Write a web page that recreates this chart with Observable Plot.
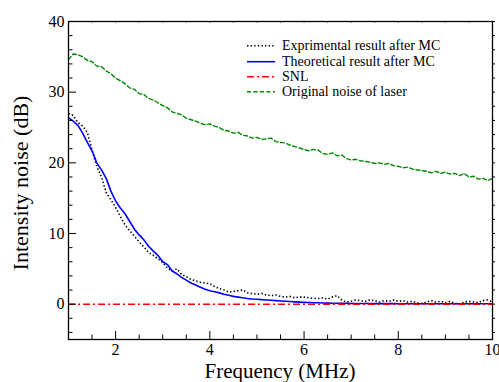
<!DOCTYPE html>
<html><head><meta charset="utf-8">
<script src="https://cdn.jsdelivr.net/npm/d3@7"></script>
<script src="https://cdn.jsdelivr.net/npm/@observablehq/plot@0.6"></script>
<style>
html,body{margin:0;padding:0;background:#fff;}
#chart{width:499px;height:382px;}
</style></head><body><div id="chart"></div>
<script>
// Frequency grid (MHz)
const freq = [
  1.0,1.1,1.2,1.3,1.4,1.5,1.6,1.7,1.8,1.9,
  2.0,2.1,2.2,2.3,2.4,2.5,2.6,2.7,2.8,2.9,
  3.0,3.1,3.2,3.3,3.4,3.5,3.6,3.7,3.8,3.9,
  4.0,4.1,4.2,4.3,4.4,4.5,4.6,4.7,4.8,4.9,
  5.0,5.1,5.2,5.3,5.4,5.5,5.6,5.7,5.8,5.9,
  6.0,6.1,6.2,6.3,6.4,6.5,6.6,6.7,6.8,6.9,
  7.0,7.1,7.2,7.3,7.4,7.5,7.6,7.7,7.8,7.9,
  8.0,8.1,8.2,8.3,8.4,8.5,8.6,8.7,8.8,8.9,
  9.0,9.1,9.2,9.3,9.4,9.5,9.6,9.7,9.8,9.9,
  10.0];
// Experimental result after MC (dB)
const experimental = [
  27.0,26.7,25.7,25.2,24.3,21.8,19.5,18.0,15.8,14.8,
  13.7,12.4,11.2,10.4,9.6,8.8,8.1,7.3,6.9,6.4,
  5.9,5.1,4.7,5.0,4.2,3.9,3.5,3.3,3.1,3.0,
  2.9,2.5,2.2,2.0,1.7,1.8,1.9,2.0,1.6,1.5,
  1.4,1.5,1.3,1.2,1.3,1.1,1.0,1.1,0.9,1.0,
  1.0,0.9,0.8,0.8,0.9,0.7,1.0,1.2,0.6,0.3,
  0.4,0.6,0.5,0.4,0.6,0.5,0.3,0.5,0.4,0.6,
  0.4,0.5,0.3,0.4,0.2,0.1,0.3,0.5,0.3,0.4,
  0.2,0.4,0.1,0.0,0.3,0.4,0.3,0.2,0.5,0.6,
  0.3];
// Theoretical result after MC (dB)
const theoretical = [
  26.4,25.9,25.3,24.2,22.9,21.7,20.0,19.0,17.8,16.0,
  14.6,13.6,12.8,11.7,10.6,9.8,9.1,8.2,7.5,6.9,
  6.0,5.6,4.7,4.3,3.8,3.4,3.0,2.7,2.4,2.1,
  1.9,1.75,1.6,1.4,1.25,1.1,1.0,0.9,0.8,0.74,
  0.7,0.64,0.6,0.55,0.5,0.45,0.41,0.37,0.33,0.29,
  0.26,0.23,0.21,0.19,0.17,0.15,0.14,0.13,0.12,0.11,
  0.10,0.10,0.09,0.09,0.08,0.08,0.08,0.07,0.07,0.07,
  0.06,0.06,0.06,0.06,0.06,0.06,0.06,0.06,0.06,0.06,
  0.05,0.05,0.05,0.05,0.05,0.05,0.05,0.05,0.05,0.05,
  0.05];
// SNL (dB)
const snlLevel = [0];
// Original noise of laser (dB)
const laserNoise = [
  34.6,35.4,35.3,35.0,34.5,34.3,33.7,33.6,33.0,32.6,
  32.0,31.6,31.2,30.6,30.4,29.8,29.7,29.1,28.9,28.5,
  28.1,27.8,27.2,27.0,26.8,26.3,26.1,25.9,25.6,25.4,
  25.5,25.2,25.0,24.6,24.5,24.2,24.3,23.9,23.8,23.5,
  23.6,23.3,23.4,23.5,23.0,22.9,22.8,22.5,22.3,22.1,
  21.9,21.7,21.9,21.8,21.3,21.2,21.4,21.0,21.1,20.6,
  20.4,20.5,20.3,20.2,20.1,19.9,20.0,19.8,19.9,19.6,
  19.5,19.3,19.4,19.1,19.0,18.9,18.8,18.6,18.8,18.5,
  18.7,18.4,18.5,18.2,18.5,18.0,18.1,17.7,17.8,17.5,
  17.8];

const xMajorTicks = [2,4,6,8,10];
const xMinorTicks = [1.5,2.5,3,3.5,4.5,5,5.5,6.5,7,7.5,8.5,9,9.5];
const yMajorTicks = [0,10,20,30,40];
const yMinorTicks = [-4,-2,2,4,6,8,12,14,16,18,22,24,26,28,32,34,36,38];
const xTitle = "Frequency (MHz)";
const yTitle = "Intensity noise (dB)";
const seriesNames = ["Exprimental result after MC","Theoretical result after MC","SNL","Original noise of laser"];
const seriesColors = ["#000000","#0000ff","#ff0000","#008800"];
const seriesDash = ["1.4,2.2","none","7,3,2,3","4,2.5"];

const W = 499, H = 382, mL = 68, mR = 7, mT = 21, mB = 43;
const innerW = W - mL - mR, innerH = H - mT - mB;
const font = "Liberation Serif";

const tbl = arr => freq.map((f, i) => ({f, v: arr[i]}));

const plot = Plot.plot({
  width: W, height: H,
  marginLeft: mL, marginRight: mR, marginTop: mT, marginBottom: mB,
  x: {domain: [1, 10], label: null},
  y: {domain: [-5, 40], label: null},
  style: {fontFamily: font, fontSize: "16px"},
  marks: [
    Plot.line(tbl(experimental), {x: "f", y: "v", stroke: seriesColors[0], strokeWidth: 1.6, strokeDasharray: seriesDash[0], strokeLinecap: "butt"}),
    Plot.line(tbl(theoretical), {x: "f", y: "v", stroke: seriesColors[1], strokeWidth: 1.6}),
    Plot.ruleY(snlLevel, {stroke: seriesColors[2], strokeWidth: 1.5, strokeDasharray: seriesDash[2]}),
    Plot.line(tbl(laserNoise), {x: "f", y: "v", stroke: seriesColors[3], strokeWidth: 1.4, strokeDasharray: seriesDash[3]}),
    // bottom ticks (inward)
    Plot.tickX(xMajorTicks, {x: d => d, insetTop: innerH - 8, stroke: "#000", strokeWidth: 1}),
    Plot.tickX(xMinorTicks, {x: d => d, insetTop: innerH - 4.5, stroke: "#000", strokeWidth: 1}),
    // top ticks (small)
    Plot.tickX(xMajorTicks.concat(xMinorTicks), {x: d => d, insetBottom: innerH - 2, stroke: "#666", strokeWidth: 0.8}),
    // left ticks (inward)
    Plot.tickY(yMajorTicks, {y: d => d, insetRight: innerW - 8, stroke: "#000", strokeWidth: 1}),
    Plot.tickY(yMinorTicks, {y: d => d, insetRight: innerW - 4.5, stroke: "#000", strokeWidth: 1}),
    // right ticks (outward)
    Plot.tickY(yMajorTicks.concat(yMinorTicks), {y: d => d, insetLeft: innerW, insetRight: -3, stroke: "#000", strokeWidth: 1}),
    Plot.frame({stroke: "#000", strokeWidth: 1.3}),
    Plot.axisX({ticks: xMajorTicks, tickSize: 0, tickPadding: 4, label: null, fontSize: 16, fontFamily: font}),
    Plot.axisY({ticks: yMajorTicks, tickSize: 0, tickPadding: 4, label: null, fontSize: 16, fontFamily: font})
  ]
});
document.getElementById("chart").appendChild(plot);

// Axis titles and legend
const svg = d3.select(plot);
svg.append("text")
  .attr("x", 280).attr("y", 378)
  .attr("text-anchor", "middle")
  .attr("font-family", font).attr("font-size", 21)
  .attr("fill", "#000")
  .text(xTitle);
svg.append("text")
  .attr("transform", "translate(28,183) rotate(-90)")
  .attr("text-anchor", "middle")
  .attr("font-family", font).attr("font-size", 22)
  .attr("fill", "#000")
  .text(yTitle);

const legendRows = [45.7, 61.7, 76.7, 91.7];
const lg = svg.append("g").attr("text-anchor", "start");
seriesNames.forEach((name, i) => {
  const y = legendRows[i];
  lg.append("line")
    .attr("x1", 247).attr("x2", 275).attr("y1", y).attr("y2", y)
    .attr("stroke", seriesColors[i])
    .attr("stroke-width", i === 1 ? 1.6 : 1.5)
    .attr("stroke-dasharray", seriesDash[i] === "none" ? null : seriesDash[i]);
  lg.append("text")
    .attr("x", 282).attr("y", y + 4.5)
    .attr("text-anchor", "start")
    .attr("font-family", font).attr("font-size", 14)
    .attr("fill", "#000")
    .text(name);
});
</script></body></html>
